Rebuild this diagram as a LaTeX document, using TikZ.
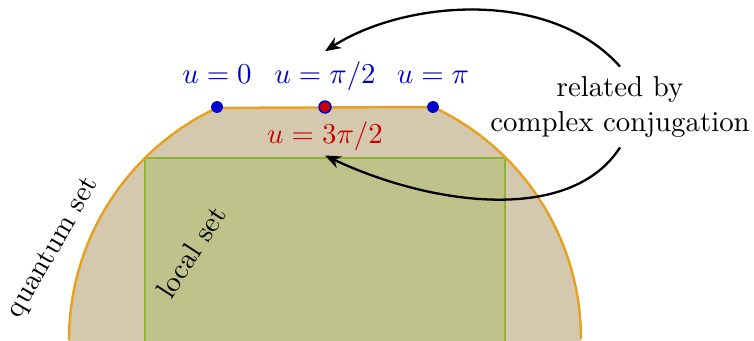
\documentclass[tikz,border=0pt]{standalone}
\usetikzlibrary{arrows.meta}
\definecolor{qfill}{RGB}{212,200,175}
\definecolor{qedge}{RGB}{232,160,32}
\definecolor{lfill}{RGB}{191,195,139}
\definecolor{ledge}{RGB}{141,180,52}
\definecolor{ublue}{RGB}{0,0,204}
\definecolor{ured}{RGB}{204,0,0}
\begin{document}
\begin{tikzpicture}[x=0.347pt,y=-0.347pt,
  dot/.style={circle,fill=ublue,inner sep=0pt,minimum size=4.1pt},
  reddot/.style={circle,fill=ured,draw=ublue,line width=0.55pt,inner sep=0pt,minimum size=4.1pt},
  blab/.style={text=ublue,anchor=base},
  rlab/.style={text=ured,anchor=base},
  conj/.style={-{Stealth[length=5.5pt,width=4.4pt]},line width=0.8pt}]
\useasboundingbox (0,0) rectangle (754,340);
% quantum set
\begin{scope}
  \clip (0,107) rectangle (754,341);
  \fill[qfill] (325,340) circle[radius=256];
\end{scope}
% local set
\fill[lfill] (145,158) rectangle (505,345);
\draw[ledge,line width=0.85pt] (145,345) -- (145,158) -- (505,158) -- (505,345);
\draw[qedge,line width=0.85pt] (69,340) arc[start angle=180,end angle=245.05,radius=256]
  -- (433,107) arc[start angle=294.95,end angle=360,radius=256];
% dots
\node[dot] (d1) at (217,107) {};
\node[reddot] (d2) at (325,107) {};
\node[dot] (d3) at (433,107) {};
% labels
\node[blab] (l1) at (217,83) {$u=0$};
\node[blab] (l2) at (325,83) {$u=\pi/2$};
\node[blab] (l3) at (433,83) {$u=\pi$};
\node[rlab] (l4) at (325,143) {$u=3\pi/2$};
\node[rotate=60] (qs) at (54,248) {quantum set};
\node[rotate=57] (ls) at (191,252) {local set};
\node[align=center] (t) at (620,107) {related by\\complex conjugation};
% arrows
\draw[conj] (t.north) .. controls (550,-12) and (405,0) .. (l2.north);
\draw[conj] (t.south) .. controls (570,225) and (430,205) .. ([yshift=1.7pt]l4.south);
\end{tikzpicture}
\end{document}
